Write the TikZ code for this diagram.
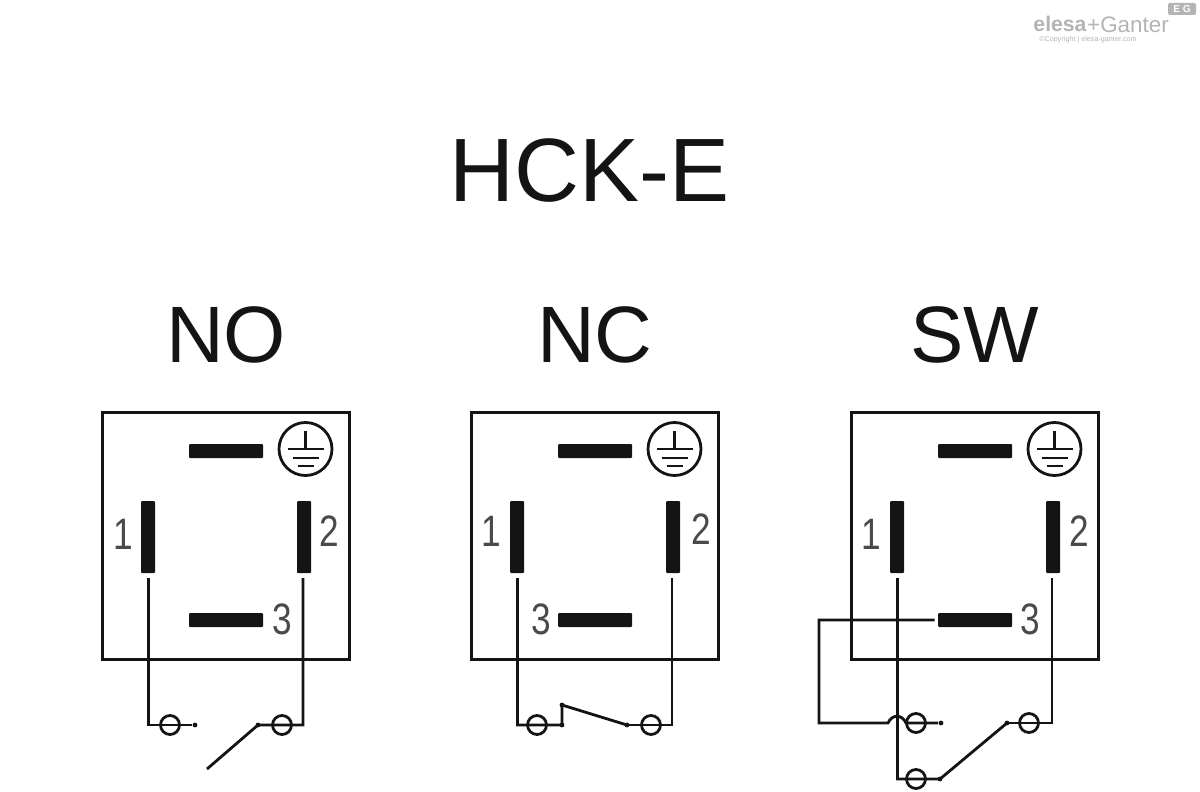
\documentclass[tikz,border=0pt]{standalone}
\usepackage{fontspec}
\setmainfont{Liberation Sans}
\newfontfamily\pinfont[FakeStretch=.8]{Liberation Sans}
\usetikzlibrary{calc}
\definecolor{WIRE}{HTML}{141414}
\definecolor{PINTXT}{HTML}{4A4A4A}
\definecolor{LOGO}{HTML}{B4B4B4}
\tikzset{
  BOX/.style={% Style for the housing
      rectangle, line width=1.5pt,
      draw=WIRE,
      inner sep=0pt, outer sep=0pt,
      minimum size=123.5pt,
  },
  HBLADE/.style={% Lying contact blade
      rectangle, rounded corners=.5pt,
      fill=WIRE,
      inner sep=0pt,
      minimum width=37pt,
      minimum height=7pt,
  },
  VBLADE/.style={% Standing contact blade
      HBLADE,
      minimum width=7pt,
      minimum height=36pt,
  },
  EARTH/.style={% Ring of the earth sign
      circle, line width=1.4pt,
      draw=WIRE,
      inner sep=0pt,
      minimum size=26.5pt,
  },
  TERM/.style={% Ring of a switch terminal
      circle, line width=1.4pt,
      draw=WIRE,
      inner sep=0pt,
      minimum size=9.5pt,
  },
  DOT/.style={% End of a switch contact
      circle, fill=WIRE,
      inner sep=0pt,
      minimum size=2.4pt,
  },
  WIRING/.style={line width=1.4pt, draw=WIRE, line join=miter},
  PIN/.style={font=\pinfont\fontsize{22}{22}\selectfont, text=PINTXT, inner sep=0pt},
  TITLE/.style={font=\fontsize{45}{45}\selectfont, text=WIRE, inner sep=0pt},
  HEAD/.style={font=\fontsize{40}{40}\selectfont, text=WIRE, inner sep=0pt},
}
\def\housing(#1)#2[#3]#4{%
  \begin{scope}[shift={(#1)}]
      \node[BOX] (Box#2) at (124.5,124.5) {};
      \node[HEAD] (Head#2) at (#4,-76) {#3};
      \node[HBLADE] (Top#2) at (125,40) {};
      \node[HBLADE] (Low#2) at (125,209) {};
      \node[VBLADE] (Left#2) at (47,126) {};
      \node[VBLADE] (Right#2) at (203,126) {};
      \coordinate (WL#2) at (47.5,167);
      \coordinate (WR#2) at (202,167);
      \node[EARTH] (Earth#2) at (204.5,38) {};
      \draw[WIRING] (Earth#2.center) ++(0,-18) -- ++(0,18) ++(-18,0) -- ++(36,0);
      \draw[WIRING] (Earth#2.center) ++(-13,9) -- ++(26,0) ++(-21,8) -- ++(16,0);
  \end{scope}
}
\begin{document}
\begin{tikzpicture}[x=.5pt,y=-.5pt]
    \useasboundingbox (0,0) rectangle (1200,792);
    % logo
    \node[font=\bfseries\fontsize{10.6}{10.6}\selectfont, text=LOGO, inner sep=0pt] (Elesa) at (1060,24) {elesa};
    \node[font=\fontsize{11.2}{11.2}\selectfont, text=LOGO, inner sep=0pt] (Ganter) at (1128,25) {+Ganter};
    \node[font=\fontsize{3.6}{3.6}\selectfont, text=LOGO, inner sep=0pt] (Copy) at (1088,40) {©Copyright | elesa-ganter.com};
    \node[rectangle, rounded corners=1pt, fill=LOGO, text=white, inner sep=0pt, minimum width=14pt, minimum height=6pt,
      font=\bfseries\fontsize{5}{5}\selectfont] (Badge) at (1182,9) {E G};
    \node[TITLE] (Title) at (590,171) {HCK-E};
    \housing(101,411){1}[NO]{125}
    \housing(470,411){2}[NC]{125}
    \housing(850,411){3}[SW]{125}
    % pin numbers
    \node[PIN] (NoA) at (123,534) {1};
    \node[PIN] (NoB) at (329,531) {2};
    \node[PIN] (NoC) at (282,619) {3};
    \node[PIN] (NcA) at (491,531) {1};
    \node[PIN] (NcB) at (701,529) {2};
    \node[PIN] (NcC) at (541,619) {3};
    \node[PIN] (SwA) at (871,534) {1};
    \node[PIN] (SwB) at (1079,531) {2};
    \node[PIN] (SwC) at (1030,619) {3};
    % NO switch
    \node[TERM] (T1a) at (170,725) {};
    \node[TERM] (T1b) at (282,725) {};
    \node[DOT] (D1a) at (195,725) {};
    \node[DOT] (D1b) at (258,725) {};
    \coordinate (F1) at (207,769);
    \draw[WIRING] (WL1) |- (T1a.center) -- (D1a);
    \draw[WIRING] (WR1) |- (T1b.center) -- (D1b.center) -- (F1);
    % NC switch
    \node[TERM] (T2a) at (537,725) {};
    \node[TERM] (T2b) at (651,725) {};
    \node[DOT] (D2a) at (562,725) {};
    \node[DOT] (D2b) at (627,725) {};
    \node[DOT] (D2c) at (562,705) {};
    \draw[WIRING] (WL2) |- (T2a.center) -- (D2a.center) -- (D2c.center) -- (D2b.center);
    \draw[WIRING] (WR2) |- (T2b.center) -- (D2b.center);
    % SW switch
    \node[TERM] (T3a) at (916,723) {};
    \node[TERM] (T3b) at (1029,723) {};
    \node[TERM] (T3c) at (916,779) {};
    \node[DOT] (D3a) at (941,723) {};
    \node[DOT] (D3b) at (1007,723) {};
    \node[DOT] (D3c) at (940,779) {};
    \coordinate (HopA) at (888,723);
    \coordinate (HopB) at (906,723);
    \coordinate (Lead) at (819,620);
    \draw[WIRING] (WL3) |- (T3c.center) -- (D3c.center) -- (D3b.center);
    \draw[WIRING] (WR3) |- (T3b.center) -- (D3b.center);
    \draw[WIRING] ($(Low3.west)+(-3,0)$) -- (Lead) |- (HopA)
      .. controls +(4,-9) and +(-4,-9) .. (HopB) -- (D3a);
\end{tikzpicture}
\end{document}
